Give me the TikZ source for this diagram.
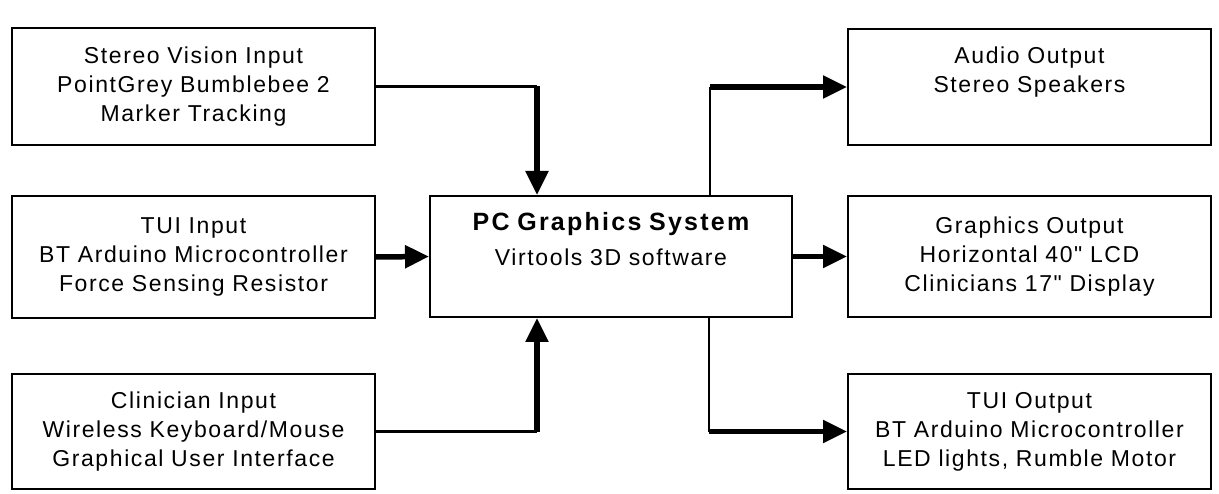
\documentclass[tikz,border=0pt]{standalone}
\usepackage{fontspec}
\newfontfamily\boxfont{Liberation Sans}[LetterSpace=7]
\usetikzlibrary{arrows.meta}
\newcommand{\titleline}[1]{{\fontsize{25}{29}\selectfont\bfseries\addfontfeature{LetterSpace=9}#1}}
\begin{document}
\begin{tikzpicture}[x=1pt,y=-1pt,
  box/.style={draw,line width=2pt,inner sep=0pt,align=center,
    font=\boxfont\fontsize{23}{29}\selectfont,text width=358pt,minimum width=363pt},
  thinline/.style={line width=2.5pt},
  thickline/.style={line width=5.5pt},
  tip/.style={-{Triangle[length=24pt,width=22pt]}},
]
\useasboundingbox (0,0) rectangle (1219,494);
% left column
\node[box,minimum height=117pt] (stereo) at (193.5,86.5)
  {\strut Stereo Vision Input\\\strut PointGrey Bumblebee 2\\\strut Marker Tracking};
\node[box,minimum height=122pt] (tuiin) at (193.5,257)
  {\strut TUI Input\\\strut BT Arduino Microcontroller\\\strut Force Sensing Resistor};
\node[box,minimum height=115pt] (clin) at (193.5,431.5)
  {\strut Clinician Input\\\strut Wireless Keyboard/Mouse\\\strut Graphical User Interface};
% center
\node[box,minimum width=362pt,minimum height=121pt] (pc) at (611,256.5)
  {\strut\titleline{PC Graphics System}\\[6pt]\strut Virtools 3D software\\\strut};
% right column
\node[box,minimum height=116pt] (audio) at (1029.5,87)
  {\strut Audio Output\\\strut Stereo Speakers\\\strut};
\node[box,minimum height=121pt] (gfx) at (1029.5,256.5)
  {\strut Graphics Output\\\strut Horizontal 40" LCD\\\strut Clinicians 17" Display};
\node[box,minimum height=115pt] (tuiout) at (1029.5,431.5)
  {\strut TUI Output\\\strut BT Arduino Microcontroller\\\strut LED lights, Rumble Motor};
% corner points
\coordinate (s1) at (537,86.5);
\coordinate (k1) at (537,431.5);
\coordinate (a1) at (710,87);
\coordinate (t1) at (709,431.5);
% connectors
\draw[thinline] (stereo.east) -- (s1);
\draw[thickline,tip] (s1) -- (s1 |- pc.north);
\draw[thinline] (clin.east) -- (k1);
\draw[thickline,tip] (k1) -- (k1 |- pc.south);
\draw[thickline,tip] (tuiin.east) -- (pc.west);
\draw[thinline] (a1 |- pc.north) -- (a1);
\draw[thickline,tip] (a1) -- (audio.west);
\draw[thickline,tip] (pc.east) -- (gfx.west);
\draw[thinline] (t1 |- pc.south) -- (t1);
\draw[thickline,tip] (t1) -- (tuiout.west);
\end{tikzpicture}
\end{document}
